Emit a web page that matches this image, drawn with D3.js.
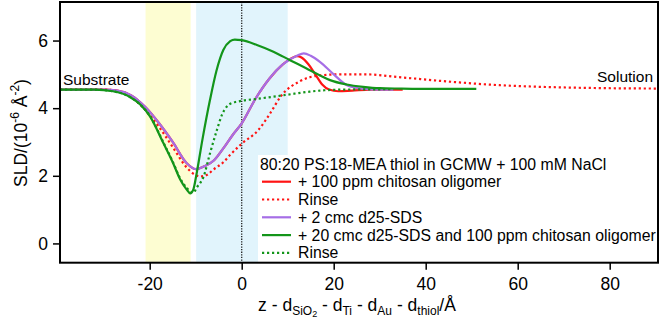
<!DOCTYPE html>
<html>
<head>
<meta charset="utf-8">
<script src="https://cdn.jsdelivr.net/npm/d3@7"></script>
<style>
  body { margin: 0; background: #fff; }
  text { font-family: "Liberation Sans", Arial, sans-serif; }
</style>
</head>
<body>
<div id="container"></div>
<script>
let w = 661;
let h = 320;
let plotLeft = 60, plotRight = 658, plotTop = 2, plotBottom = 262.7;

// tick labels
let xTicks = [-20, 0, 20, 40, 60, 80];
let yTicks = [0, 2, 4, 6];

// shaded layers (z range)
let yellowBand = [-20.9, -11.1];
let blueBand = [-9.9, 10.0];

// + 100 ppm chitosan oligomer
let chitZ   = [-39.5, -30, -27, -24, -21, -18, -15, -12, -10, -8, -6, -4, -2, 0, 3, 6, 9, 10.5, 12, 13, 14.5, 16, 17.5, 19, 21, 24, 28, 35];
let chitSLD = [4.55, 4.55, 4.52, 4.38, 4.04, 3.56, 3.0, 2.38, 2.2, 2.29, 2.46, 2.81, 3.2, 3.55, 4.28, 4.87, 5.3, 5.45, 5.54, 5.5, 5.3, 5.0, 4.7, 4.55, 4.5, 4.52, 4.55, 4.55];

// Rinse (after chitosan)
let rinse1Z   = [-39.5, -30, -27, -24, -21, -18, -15, -12, -10, -9, -7.5, -6, -4, -2.5, 0, 3.6, 6.2, 8.5, 12.7, 17, 21.4, 27, 34, 43, 56, 63, 75, 90.5];
let rinse1SLD = [4.55, 4.55, 4.5, 4.33, 3.95, 3.45, 2.85, 2.25, 2.02, 1.98, 2.03, 2.2, 2.4, 2.62, 2.95, 3.35, 3.85, 4.35, 4.8, 4.97, 5.0, 5.0, 4.92, 4.81, 4.68, 4.64, 4.6, 4.58];

// + 2 cmc d25-SDS
let sdsZ   = [-39.5, -30, -27, -24, -21, -18, -15, -12, -10, -8, -6, -4, -2, 0, 3, 6, 9, 12, 13.5, 15, 17, 20, 23, 26, 30, 33];
let sdsSLD = [4.55, 4.55, 4.52, 4.38, 4.04, 3.56, 3.0, 2.38, 2.2, 2.29, 2.46, 2.81, 3.2, 3.55, 4.28, 4.87, 5.3, 5.55, 5.62, 5.55, 5.37, 5.0, 4.67, 4.58, 4.55, 4.55];

// + 20 cmc d25-SDS and 100 ppm chitosan oligomer
let mixZ   = [-39.5, -32, -28, -24.3, -22, -19.9, -17, -15, -13.4, -12, -11.2, -10.5, -9.8, -8.5, -6.9, -5.5, -4, -2.5, -1.5, 0, 3.3, 6.9, 10.5, 14, 17, 19.2, 22.8, 26.4, 30, 34.4, 42, 51];
let mixSLD = [4.55, 4.55, 4.5, 4.33, 4.1, 3.75, 2.96, 2.4, 1.9, 1.6, 1.48, 1.6, 2.07, 3.1, 4.24, 5.1, 5.72, 5.98, 6.03, 6.01, 5.87, 5.67, 5.42, 5.18, 4.97, 4.83, 4.7, 4.63, 4.59, 4.58, 4.57, 4.57];

// Rinse (after mixture)
let rinse2Z   = [-39.5, -32, -28, -24.3, -22, -19.9, -17, -15, -13.4, -12, -11, -10.5, -9.8, -8.3, -6.9, -5.4, -4.3, -3.3, -2, -1, 0, 3, 6.9, 10, 14.8, 18, 22, 33];
let rinse2SLD = [4.55, 4.55, 4.5, 4.33, 4.1, 3.76, 2.98, 2.42, 1.93, 1.65, 1.52, 1.5, 1.65, 1.97, 2.66, 3.35, 3.8, 4.04, 4.16, 4.19, 4.22, 4.27, 4.34, 4.4, 4.49, 4.53, 4.55, 4.56];

let seriesNames = ["+ 100 ppm chitosan oligomer", "Rinse", "+ 2 cmc d25-SDS", "+ 20 cmc d25-SDS and 100 ppm chitosan oligomer", "Rinse"];
let legendTitle = "80:20 PS:18-MEA thiol in GCMW + 100 mM NaCl";

let series = [
  {name: seriesNames[0], z: chitZ, v: chitSLD, color: "#ff1414", dash: null},
  {name: seriesNames[1], z: rinse1Z, v: rinse1SLD, color: "#ff1414", dash: "2.2,2.8"},
  {name: seriesNames[2], z: sdsZ, v: sdsSLD, color: "#a66ee6", dash: null},
  {name: seriesNames[3], z: mixZ, v: mixSLD, color: "#13951a", dash: null},
  {name: seriesNames[4], z: rinse2Z, v: rinse2SLD, color: "#13951a", dash: "2.2,2.8"}
];

let viz = d3.select("#container").append("svg")
  .attr("width", w)
  .attr("height", h);

let x = d3.scaleLinear().domain([-39.5, 90.5]).range([plotLeft, plotRight]);
let y = d3.scaleLinear().domain([-0.57, 7.14]).range([plotBottom, plotTop]);

// bands
viz.append("rect").attr("x", x(yellowBand[0])).attr("y", plotTop)
  .attr("width", x(yellowBand[1]) - x(yellowBand[0])).attr("height", plotBottom - plotTop)
  .attr("fill", "#fdfdd2");
viz.append("rect").attr("x", x(blueBand[0])).attr("y", plotTop)
  .attr("width", x(blueBand[1]) - x(blueBand[0])).attr("height", plotBottom - plotTop)
  .attr("fill", "#e1f4fc");

// z = 0 line
viz.append("line")
  .attr("x1", x(0)).attr("x2", x(0)).attr("y1", plotTop).attr("y2", plotBottom)
  .attr("stroke", "#222").attr("stroke-width", 1.3).attr("stroke-dasharray", "1.3,1.3");

let line = d3.line()
  .x(d => x(d[0]))
  .y(d => y(d[1]))
  .curve(d3.curveMonotoneX);

series.forEach(s => {
  let pts = s.z.map((z, i) => [z, s.v[i]]);
  viz.append("path")
    .attr("d", line(pts))
    .attr("fill", "none")
    .attr("stroke", s.color)
    .attr("stroke-width", 2.2)
    .attr("stroke-dasharray", s.dash);
});

// labels in plot
viz.append("text").attr("x", 63).attr("y", 85).attr("font-size", 15.5).text("Substrate");
viz.append("text").attr("x", 653).attr("y", 82).attr("text-anchor", "end").attr("font-size", 15.5).text("Solution");

// legend
let lg = viz.append("g");
lg.append("rect").attr("x", 258).attr("y", 155).attr("width", plotRight - 258).attr("height", plotBottom - 155).attr("fill", "white");
lg.append("text").attr("x", 260).attr("y", 169.5).attr("font-size", 15.8).text(legendTitle);
series.forEach((s, i) => {
  let yy = 181.7 + i * 17.8;
  lg.append("line").attr("x1", 262).attr("x2", 291).attr("y1", yy).attr("y2", yy)
    .attr("stroke", s.color).attr("stroke-width", 2.2).attr("stroke-dasharray", s.dash);
  lg.append("text").attr("x", 298).attr("y", yy + 5.5).attr("font-size", 15.8).text(s.name);
});

// frame
viz.append("rect").attr("x", plotLeft).attr("y", plotTop).attr("width", plotRight - plotLeft).attr("height", plotBottom - plotTop)
  .attr("fill", "none").attr("stroke", "black").attr("stroke-width", 2);

// axes
let xAxis = d3.axisBottom(x).tickValues(xTicks).tickSize(7).tickPadding(8).tickFormat(d3.format("d"));
let xg = viz.append("g").attr("transform", "translate(0," + plotBottom + ")").call(xAxis);
let yAxis = d3.axisLeft(y).tickValues(yTicks).tickSize(7).tickPadding(5).tickFormat(d3.format("d"));
let yg = viz.append("g").attr("transform", "translate(" + plotLeft + ",0)").call(yAxis);
[xg, yg].forEach(g => {
  g.select(".domain").remove();
  g.selectAll(".tick line").attr("stroke", "black").attr("stroke-width", 1.5);
  g.selectAll(".tick text").attr("font-size", 17.5).attr("fill", "black")
    .style("font-family", "'Liberation Sans', Arial, sans-serif");
});
xg.selectAll(".tick text").text(d => d < 0 ? "-" + Math.abs(d) : d);

// rich text helper: segments [text, size, baseline shift]
function richText(el, segs) {
  let prev = 0;
  segs.forEach(s => {
    el.append("tspan").attr("font-size", s[1]).attr("dy", s[2] - prev).text(s[0]);
    prev = s[2];
  });
}

let xt = viz.append("text").attr("x", 357).attr("y", 310.5).attr("text-anchor", "middle");
richText(xt, [
  ["z - d", 17.5, 0], ["SiO", 12, 4], ["2", 9, 6.5], [" - d", 17.5, 0], ["Ti", 12, 4],
  [" - d", 17.5, 0], ["Au", 12, 4], [" - d", 17.5, 0], ["thiol", 12, 4], ["/Å", 17.5, 0]
]);

let yt = viz.append("text").attr("transform", "translate(27,133) rotate(-90)").attr("text-anchor", "middle");
richText(yt, [
  ["SLD/(10", 17.5, 0], ["-6", 12, -8], [" Å", 17.5, 0], ["-2", 12, -8], [")", 17.5, 0]
]);
</script>
</body>
</html>
